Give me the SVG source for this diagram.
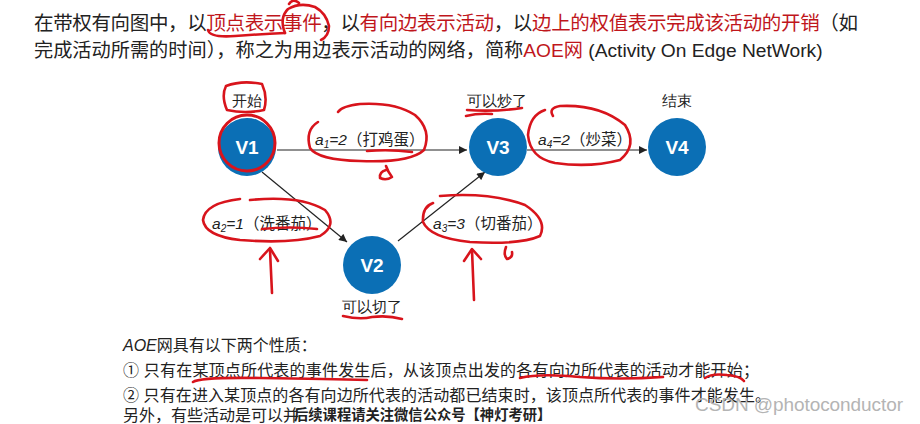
<svg xmlns="http://www.w3.org/2000/svg" width="920" height="424" viewBox="0 0 920 424">
<style>
  .t{font-family:"Liberation Sans","Noto Sans CJK SC",sans-serif;fill:#222}
  .red{fill:#c0161c}
  .lbl{font-family:"Liberation Sans","Noto Sans CJK SC",sans-serif;font-size:15px;fill:#222;text-anchor:middle}
  .el{font-family:"Liberation Sans","Noto Sans CJK SC",sans-serif;font-size:15.5px;fill:#222}
  .it{font-style:italic}
  .node circle{fill:#0b6fb5}
  .node text{font-family:"Liberation Sans",sans-serif;font-weight:bold;font-size:19px;fill:#fff;text-anchor:middle}
  .edge{stroke:#222;stroke-width:1.2;fill:none}
  .pen{stroke:#d8141c;stroke-width:2.6;fill:none;stroke-linecap:round;stroke-linejoin:round}
</style>
<defs>
  <marker id="arr" viewBox="0 0 10 10" refX="10" refY="5" markerWidth="9" markerHeight="8" markerUnits="userSpaceOnUse" orient="auto">
    <path d="M0,0 L10,5 L0,10 Z" fill="#222"/>
  </marker>
</defs>
<rect width="920" height="424" fill="#fff"/>

<text class="t" x="34" y="30" font-size="19.5" textLength="824" lengthAdjust="spacing">在带权有向图中，以<tspan class="red">顶点表示事件</tspan>，以<tspan class="red">有向边表示活动</tspan>，以<tspan class="red">边上的权值表示完成该活动的开销</tspan>（如</text>
<text class="t" x="34" y="57" font-size="19.2">完成活动所需的时间），称之为用边表示活动的网络，简称<tspan class="red">AOE网</tspan> (Activity On Edge NetWork)</text>

<g id="connectors">
  <line class="edge" x1="277" y1="150" x2="467" y2="150" marker-end="url(#arr)"/>
  <line class="edge" x1="527" y1="150" x2="647" y2="150" marker-end="url(#arr)"/>
  <line class="edge" x1="262" y1="172" x2="347" y2="242" marker-end="url(#arr)"/>
  <line class="edge" x1="398" y1="241" x2="485" y2="172" marker-end="url(#arr)"/>
  <text class="el" x="315" y="145"><tspan class="it">a</tspan><tspan class="it" font-size="10" dy="3">1</tspan><tspan class="it" dy="-3">=2</tspan>（打鸡蛋）</text>
  <text class="el" x="538" y="145"><tspan class="it">a</tspan><tspan class="it" font-size="10" dy="3">4</tspan><tspan class="it" dy="-3">=2</tspan>（炒菜）</text>
  <text class="el" x="212" y="229"><tspan class="it">a</tspan><tspan class="it" font-size="10" dy="3">2</tspan><tspan class="it" dy="-3">=1</tspan>（洗番茄）</text>
  <text class="el" x="433" y="229"><tspan class="it">a</tspan><tspan class="it" font-size="10" dy="3">3</tspan><tspan class="it" dy="-3">=3</tspan>（切番茄）</text>
</g>

<g id="V1" class="node"><circle cx="247" cy="147" r="29"/><text x="247" y="154">V1</text><text class="lbl" x="247" y="106" style="fill:#222;font-weight:normal;font-size:15px">开始</text></g>
<g id="V2" class="node"><circle cx="372" cy="265" r="29"/><text x="372" y="272">V2</text><text class="lbl" x="372" y="312" style="fill:#222;font-weight:normal;font-size:15px">可以切了</text></g>
<g id="V3" class="node"><circle cx="498" cy="147" r="29"/><text x="498" y="154">V3</text><text class="lbl" x="497" y="106" style="fill:#222;font-weight:normal;font-size:15px">可以炒了</text></g>
<g id="V4" class="node"><circle cx="677" cy="147" r="29"/><text x="677" y="154">V4</text><text class="lbl" x="677" y="106" style="fill:#222;font-weight:normal;font-size:15px">结束</text></g>

<text class="t" x="123" y="351" font-size="16"><tspan class="it">AOE</tspan>网具有以下两个性质：</text>
<text class="t" x="123" y="376" font-size="16" textLength="636" lengthAdjust="spacing">① 只有在某顶点所代表的事件发生后，从该顶点出发的各有向边所代表的活动才能开始；</text>
<text class="t" x="123" y="401" font-size="16" textLength="648" lengthAdjust="spacing">② 只有在进入某顶点的各有向边所代表的活动都已结束时，该顶点所代表的事件才能发生。</text>
<text class="t" x="123" y="421" font-size="16">另外，有些活动是可以并</text>
<text class="t" x="294" y="420" font-size="14.3" font-weight="bold">后续课程请关注微信公众号【神灯考研】</text>
<text x="695" y="411" font-family="Liberation Sans,sans-serif" font-size="19" fill="#b4b4b4" textLength="208">CSDN @photoconductor</text>

<g id="annotations" class="pen">
  <path d="M208,30 Q210,38 235,36 Q262,34 285,33"/>
  <path d="M285,33 Q279,18 288,9 Q300,2 315,7 Q326,13 329,26 Q329,36 321,40"/>
  <path d="M289,4 Q293,-2 299,3"/>
  <path d="M226,86 Q242,80 262,84 Q268,97 264,110 Q245,114 227,110 Q221,96 226,86"/>
  <circle cx="247" cy="143" r="28" stroke-width="3"/>
  <path d="M318,122 Q305,130 310,148 Q318,160 360,161 Q410,163 424,150 Q432,130 415,115 Q395,102 360,104 Q342,106 338,112"/>
  <path d="M367,151 Q390,149 412,152"/>
  <path d="M386,166 Q388,172 392,177 Q386,181 380,178 Q379,172 386,170"/>
  <path d="M467,110 Q495,112 522,108"/>
  <path d="M466,116 Q478,113 492,114"/>
  <path d="M553,116 Q548,108 560,106 Q600,104 625,125 Q638,145 620,160 Q590,168 555,163 Q530,158 528,135 Q530,115 545,110"/>
  <path d="M250,200 Q300,195 325,210 Q338,225 320,236 Q290,244 240,240 Q205,236 203,220 Q205,203 240,199"/>
  <path d="M262,229 Q290,226 317,229"/>
  <path d="M272,293 L270,250"/>
  <path d="M260,259 L270,248 L278,261"/>
  <path d="M440,196 Q490,192 525,205 Q548,220 540,236 Q520,245 470,242 Q430,238 423,222 Q422,207 433,203"/>
  <path d="M506,247 Q503,255 507,259 Q513,258 512,252"/>
  <path d="M474,300 L472,250"/>
  <path d="M464,261 L472,249 L481,259"/>
  <path d="M343,316 Q360,320 372,317 Q388,315 402,319"/>
  <path d="M193,382 Q200,377 260,378 Q330,379 367,380"/>
  <path d="M520,378 Q540,373 580,377 Q620,380 663,377"/>
  <path d="M705,378 Q712,373 727,375 Q740,376 744,381"/>
</g>
</svg>
